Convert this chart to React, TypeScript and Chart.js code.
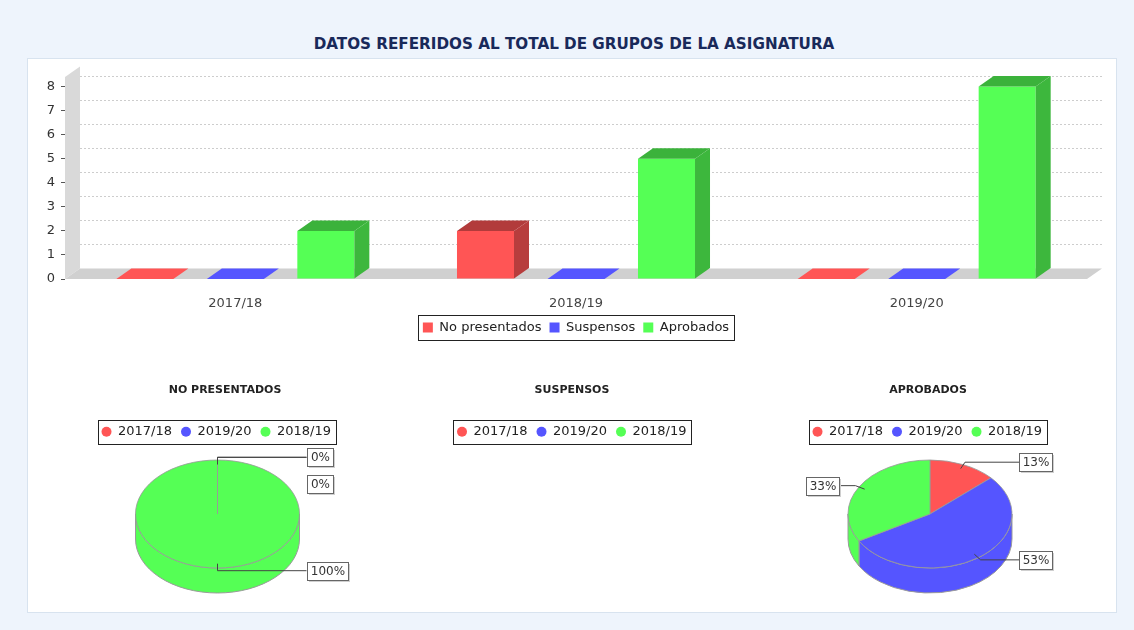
import { useEffect, useRef } from 'react';
import { Chart, registerables } from 'chart.js';

Chart.register(...registerables);
Chart.defaults.font.family = "'DejaVu Sans', sans-serif";

// ---------- data ----------
const categories = ['2017/18', '2018/19', '2019/20'];
const seriesNames = ['No presentados', 'Suspensos', 'Aprobados'];
const noPresentados = [0, 2, 0];
const suspensos = [0, 0, 0];
const aprobados = [2, 5, 8];
const yTicks = [0, 1, 2, 3, 4, 5, 6, 7, 8];
const yMax = 8.4;

const pieLabels = ['2017/18', '2019/20', '2018/19'];
const pieTitles = ['NO PRESENTADOS', 'SUSPENSOS', 'APROBADOS'];
const pieNoPresentados = [0, 0, 2];
const pieSuspensos = [0, 0, 0];
const pieAprobados = [2, 8, 5];

// ---------- styles / layout ----------
const RED = '#ff5555';
const BLUE = '#5555ff';
const GREEN = '#55ff55';
const seriesColors = [RED, BLUE, GREEN];
const pieColors = [RED, BLUE, GREEN];

const DX = 15;
const DY = 10.5;
const PIE_R = 82;
const PIE_SY = 54 / 82;
const PIE_DEPTH = 25;
const PIE_CY = 144;
const PIE_W = 340;
const LEGEND_PAD = 9;
const pieCenters = [224.5, 572, 927.5];
const pieOffsets = [-7.5, 0, 2];
const pieLegendStart = [101, 457, 812];

function darker(hex: string, f = 0.7) {
  const n = parseInt(hex.slice(1), 16);
  const r = Math.floor(((n >> 16) & 255) * f);
  const g = Math.floor(((n >> 8) & 255) * f);
  const b = Math.floor((n & 255) * f);
  return `rgb(${r},${g},${b})`;
}

const legendBorder = {
  id: 'legendBorder',
  afterDraw(chart: any, _args: any, opts: any) {
    const lg = chart.legend;
    if (!lg || !lg.legendHitBoxes || !lg.legendHitBoxes.length) return;
    const hb = lg.legendHitBoxes;
    const l = Math.min(...hb.map((h: any) => h.left));
    const r = Math.max(...hb.map((h: any) => h.left + h.width));
    const t = Math.min(...hb.map((h: any) => h.top));
    const b = Math.max(...hb.map((h: any) => h.top + h.height));
    const ctx = chart.ctx;
    ctx.save();
    ctx.strokeStyle = opts.color || '#222';
    ctx.lineWidth = 1;
    ctx.strokeRect(
      Math.round(l - opts.padX) + 0.5,
      Math.round(t - opts.padY) + 0.5,
      Math.round(r - l + 2 * opts.padX),
      Math.round(b - t + 2 * opts.padY)
    );
    ctx.restore();
  },
};

const bar3d = {
  id: 'bar3d',
  beforeDatasetsDraw(chart: any) {
    const { ctx, chartArea: a } = chart;
    const y = chart.scales.y;
    ctx.save();
    // left wall
    ctx.fillStyle = '#d9d9d9';
    ctx.beginPath();
    ctx.moveTo(a.left, a.bottom);
    ctx.lineTo(a.left, a.top);
    ctx.lineTo(a.left + DX, a.top - DY);
    ctx.lineTo(a.left + DX, a.bottom - DY);
    ctx.closePath();
    ctx.fill();
    // back-wall gridlines
    ctx.strokeStyle = '#cdcdcd';
    ctx.lineWidth = 1;
    ctx.setLineDash([2, 2]);
    y.ticks.forEach((t: any) => {
      if (t.value === 0) return;
      const py = Math.round(y.getPixelForValue(t.value) - DY) + 0.5;
      ctx.beginPath();
      ctx.moveTo(a.left + DX, py);
      ctx.lineTo(a.right + DX, py);
      ctx.stroke();
    });
    ctx.setLineDash([]);
    // floor
    ctx.fillStyle = '#d0d0d0';
    ctx.beginPath();
    ctx.moveTo(a.left, a.bottom);
    ctx.lineTo(a.right, a.bottom);
    ctx.lineTo(a.right + DX, a.bottom - DY);
    ctx.lineTo(a.left + DX, a.bottom - DY);
    ctx.closePath();
    ctx.fill();
    ctx.restore();
  },
  afterDatasetsDraw(chart: any) {
    const ctx = chart.ctx;
    ctx.save();
    chart.data.datasets.forEach((ds: any, i: number) => {
      const meta = chart.getDatasetMeta(i);
      meta.data.forEach((bar: any) => {
        const { x, y, base, width } = bar.getProps(['x', 'y', 'base', 'width'], true);
        const l = x - width / 2;
        const r = x + width / 2;
        const h = base - y;
        const col = ds.backgroundColor;
        ctx.fillStyle = h > 0.5 ? darker(col) : col;
        ctx.beginPath();
        ctx.moveTo(l, y);
        ctx.lineTo(l + DX, y - DY);
        ctx.lineTo(r + DX, y - DY);
        ctx.lineTo(r, y);
        ctx.closePath();
        ctx.fill();
        if (h > 0.5) {
          ctx.fillStyle = darker(col, 0.72);
          ctx.beginPath();
          ctx.moveTo(r, y);
          ctx.lineTo(r + DX, y - DY);
          ctx.lineTo(r + DX, base - DY);
          ctx.lineTo(r, base);
          ctx.closePath();
          ctx.fill();
        }
      });
    });
    ctx.restore();
  },
};

function BarChart() {
  const ref = useRef<HTMLCanvasElement>(null);
  useEffect(() => {
    const series = [noPresentados, suspensos, aprobados];
    const chart = new Chart(ref.current as HTMLCanvasElement, {
      type: 'bar',
      data: {
        labels: categories,
        datasets: series.map((d, i) => ({
          label: seriesNames[i],
          data: d,
          backgroundColor: seriesColors[i],
          borderWidth: 0,
          barPercentage: 0.63,
          categoryPercentage: 0.797,
        })),
      },
      options: {
        animation: false,
        responsive: false,
        layout: { padding: { left: 0, right: 30, top: 17, bottom: 6 } },
        plugins: {
          legend: {
            position: 'bottom',
            fullSize: false,
            labels: { boxWidth: 10, boxHeight: 10, padding: 8, color: '#222', font: { size: 13 } },
            onClick: () => {},
          },
          tooltip: { enabled: false },
          legendBorder: { padX: 5, padY: 6 },
        },
        scales: {
          x: {
            grid: { display: false },
            border: { display: false },
            ticks: { color: '#444', font: { size: 13 }, padding: 9 },
            afterFit: (s: any) => {
              s.height = 34;
            },
          },
          y: {
            min: 0,
            max: yMax,
            ticks: { stepSize: 1, color: '#333', font: { size: 13 }, padding: 6 },
            grid: { drawOnChartArea: false, drawTicks: true, tickLength: 4, color: '#555' },
            border: { display: false },
            afterFit: (s: any) => {
              s.width = 35;
            },
            afterBuildTicks: (s: any) => {
              s.ticks = yTicks.map((v) => ({ value: v }));
            },
          },
        },
      } as any,
      plugins: [bar3d, legendBorder] as any,
    });
    return () => chart.destroy();
  }, []);
  return (
    <canvas
      ref={ref}
      width={1087}
      height={290}
      style={{ position: 'absolute', left: 30, top: 60, width: 1087, height: 290 }}
    />
  );
}

const pie3d = {
  id: 'pie3d',
  beforeDatasetsDraw(chart: any, _args: any, opts: any) {
    const meta = chart.getDatasetMeta(0);
    const arcs = meta.data;
    if (!arcs.length) return;
    const cx = arcs[0].x;
    const cy = arcs[0].y;
    const PX = chart.width / 2 + opts.offX;
    const PY = opts.cy;
    const ctx = chart.ctx;
    ctx.save();
    arcs.forEach((arc: any) => {
      const { startAngle, endAngle, outerRadius, circumference } = arc.getProps(
        ['startAngle', 'endAngle', 'outerRadius', 'circumference'],
        true
      );
      if (!(circumference > 0)) return;
      const s = Math.max(startAngle, 0);
      const e = Math.min(endAngle, Math.PI);
      if (e <= s) return;
      const rx = outerRadius;
      const ry = outerRadius * PIE_SY;
      ctx.beginPath();
      ctx.ellipse(PX, PY, rx, ry, 0, s, e, false);
      ctx.lineTo(PX + rx * Math.cos(e), PY + ry * Math.sin(e) + PIE_DEPTH);
      ctx.ellipse(PX, PY + PIE_DEPTH, rx, ry, 0, e, s, true);
      ctx.closePath();
      ctx.fillStyle = arc.options.backgroundColor;
      ctx.fill();
      ctx.strokeStyle = '#9a9a9a';
      ctx.lineWidth = 1;
      ctx.stroke();
    });
    ctx.translate(PX, PY);
    ctx.scale(1, PIE_SY);
    ctx.translate(-cx, -cy);
  },
  afterDatasetsDraw(chart: any, _args: any, opts: any) {
    const meta = chart.getDatasetMeta(0);
    const arcs = meta.data;
    if (!arcs.length) return;
    const ctx = chart.ctx;
    ctx.restore();
    const total = meta.total;
    if (!total) return;
    const PX = chart.width / 2 + opts.offX;
    const PY = opts.cy;
    const values = chart.data.datasets[0].data;
    const H = 18;
    const GAP = 9;
    const items = arcs.map((arc: any, i: number) => {
      const { startAngle, endAngle, outerRadius } = arc.getProps(['startAngle', 'endAngle', 'outerRadius'], true);
      const m = (startAngle + endAngle) / 2;
      const c = Math.cos(m);
      const s = Math.sin(m);
      const R = outerRadius;
      const ey = PY + R * PIE_SY * 1.05 * s;
      return {
        text: Math.round((values[i] / total) * 100) + '%',
        right: c >= -1e-9,
        inner: [PX + R * 0.92 * c, PY + R * PIE_SY * 0.92 * s],
        elbow: [PX + R * 1.05 * c, ey],
        cy: ey,
        ey,
        R,
      };
    });
    [true, false].forEach((side) => {
      const list = items.filter((it: any) => it.right === side).sort((a: any, b: any) => a.cy - b.cy);
      for (let k = 1; k < list.length; k++) {
        const minC = list[k - 1].cy + H + GAP;
        if (list[k].cy < minC) list[k].cy = minC;
      }
    });
    ctx.save();
    ctx.font = "12px 'DejaVu Sans', sans-serif";
    ctx.textAlign = 'center';
    ctx.textBaseline = 'middle';
    items.forEach((it: any) => {
      const edgeX = it.right ? PX + it.R + 7 : PX - it.R - 9;
      ctx.strokeStyle = '#444';
      ctx.lineWidth = 1;
      ctx.beginPath();
      ctx.moveTo(it.inner[0], it.inner[1]);
      ctx.lineTo(it.elbow[0], it.elbow[1]);
      ctx.lineTo(edgeX, it.ey);
      ctx.stroke();
      const w = Math.ceil(ctx.measureText(it.text).width) + 6;
      const x0 = Math.round(it.right ? edgeX : edgeX - w);
      const y0 = Math.round(it.cy - H / 2);
      ctx.fillStyle = '#cfcfcf';
      ctx.fillRect(x0 + 2, y0 + 2, w, H);
      ctx.fillStyle = '#fff';
      ctx.fillRect(x0, y0, w, H);
      ctx.strokeStyle = '#666';
      ctx.strokeRect(x0 + 0.5, y0 + 0.5, w, H);
      ctx.fillStyle = '#333';
      ctx.fillText(it.text, x0 + w / 2 + 0.5, y0 + H / 2 + 1);
    });
    ctx.restore();
  },
};

function PieChart({ idx, values }: { idx: number; values: number[] }) {
  const ref = useRef<HTMLCanvasElement>(null);
  const canvasLeft = pieCenters[idx] - PIE_W / 2;
  const sidePad = pieLegendStart[idx] - LEGEND_PAD - canvasLeft;
  useEffect(() => {
    const chart = new Chart(ref.current as HTMLCanvasElement, {
      type: 'pie',
      data: {
        labels: pieLabels,
        datasets: [
          {
            data: values,
            backgroundColor: pieColors,
            borderColor: '#9a9a9a',
            borderWidth: 1,
            clip: false,
          },
        ],
      },
      options: {
        animation: false,
        responsive: false,
        radius: PIE_R,
        layout: { padding: { top: 0, bottom: 10, left: sidePad, right: sidePad } },
        plugins: {
          title: {
            display: true,
            text: pieTitles[idx],
            color: '#222',
            font: { size: 11, weight: 'bold' },
            padding: { top: 14, bottom: 19 },
          },
          legend: {
            position: 'top',
            align: 'start',
            fullSize: false,
            labels: {
              usePointStyle: true,
              pointStyle: 'circle',
              pointStyleWidth: 10,
              boxHeight: 7,
              padding: LEGEND_PAD,
              color: '#222',
              font: { size: 13 },
              generateLabels: (c: any) =>
                (Chart as any).overrides.pie.plugins.legend.labels
                  .generateLabels(c)
                  .map((l: any) => ({ ...l, lineWidth: 0, strokeStyle: 'rgba(0,0,0,0)' })),
            },
            onClick: () => {},
          },
          tooltip: { enabled: false },
          legendBorder: { padX: 4, padY: 5.5 },
          pie3d: { offX: pieOffsets[idx], cy: PIE_CY },
        },
      } as any,
      plugins: [pie3d, legendBorder] as any,
    });
    return () => chart.destroy();
  }, []);
  return (
    <canvas
      ref={ref}
      width={PIE_W}
      height={240}
      style={{ position: 'absolute', left: canvasLeft, top: 370, width: PIE_W, height: 240 }}
    />
  );
}

export default function App() {
  return (
    <div
      style={{
        position: 'fixed',
        left: 0,
        top: 0,
        width: 1134,
        height: 630,
        background: '#eef4fc',
        overflow: 'hidden',
      }}
    >
      <div
        style={{
          position: 'absolute',
          left: 27,
          top: 58,
          width: 1090,
          height: 555,
          background: '#ffffff',
          border: '1px solid #d8e3ef',
          boxSizing: 'border-box',
        }}
      />
      <div
        style={{
          position: 'absolute',
          left: 27,
          top: 35,
          width: 1094,
          height: 18,
          lineHeight: '18px',
          textAlign: 'center',
          fontFamily: "'DejaVu Sans', sans-serif",
          fontWeight: 'bold',
          fontSize: 15.2,
          color: '#19295a',
        }}
      >
        DATOS REFERIDOS AL TOTAL DE GRUPOS DE LA ASIGNATURA
      </div>
      <BarChart />
      <PieChart idx={0} values={pieNoPresentados} />
      <PieChart idx={1} values={pieSuspensos} />
      <PieChart idx={2} values={pieAprobados} />
    </div>
  );
}
